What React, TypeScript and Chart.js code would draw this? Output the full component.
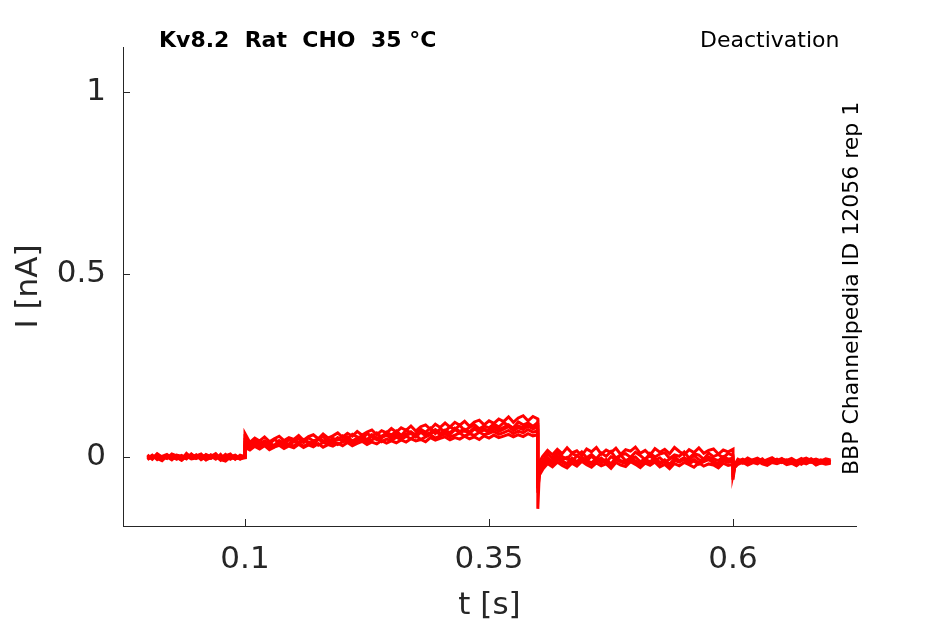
import { useEffect, useRef } from "react";
import { Chart, registerables } from "chart.js";
import type { ChartConfiguration, Plugin } from "chart.js";

Chart.register(...registerables);

// sample times in ms (steps at 100, 400, 600 ms are repeated on purpose)
const TIME_MS = [
  0, 5, 10, 15, 20, 25, 30, 35, 40, 45, 50, 55, 60, 65, 70, 75, 80, 85, 90, 95, 100,
  100, 105, 110, 115, 120, 125, 130, 135, 140, 145, 150, 155, 160, 165, 170, 175, 180, 185, 190, 195,
  200, 205, 210, 215, 220, 225, 230, 235, 240, 245, 250, 255, 260, 265, 270, 275, 280, 285, 290, 295,
  300, 305, 310, 315, 320, 325, 330, 335, 340, 345, 350, 355, 360, 365, 370, 375, 380, 385, 390, 395, 400,
  400, 402, 405, 410, 415, 420, 425, 430, 435, 440, 445, 450, 455, 460, 465, 470, 475, 480, 485, 490, 495,
  500, 505, 510, 515, 520, 525, 530, 535, 540, 545, 550, 555, 560, 565, 570, 575, 580, 585, 590, 595, 600,
  600, 602, 605, 610, 615, 620, 625, 630, 635, 640, 645, 650, 655, 660, 665, 670, 675, 680, 685, 690, 695, 700,
];

// current per sweep, in pA
const SWEEP_1 = [
  6, -5, 9, 0, -4, 8, 3, -7, 10, -2, 5, -6, 7, 1, 9, -4, 3, 8, -6, 5, 0,
  64, 40, 52, 44, 55, 42, 50, 57, 45, 53, 48, 59, 46, 56, 61, 50, 63, 52, 58, 66,
  54, 65, 57, 70, 60, 68, 74, 61, 72, 66, 78, 68, 80, 73, 85, 71, 83, 88, 76, 90,
  81, 93, 82, 95, 87, 98, 84, 96, 101, 88, 99, 92, 104, 97, 110, 95, 107, 113, 99, 111, 104,
  -142, -12, 2, 18, 6, 21, 9, 25, 11, 17, 4, 22, 14, 26, 8, 19, 12, 24, 7, 20, 16,
  27, 10, 18, 5, 23, 13, 21, 9, 26, 15, 6, 20, 12, 25, 10, 18, 22, 8, 19, 14, 21,
  -62, -20, -6, -12, -3, -10, -5, -13, -7, -2, -11, -6, -9, -4, -12, -7, -3, -10, -6, -11, -5, -8,
];
const SWEEP_2 = [
  -4, 5, -7, 2, 7, -3, 4, -8, 6, -1, 3, 8, -5, 2, -6, 7, -8, 1, 5, -4, -2,
  44, 33, 46, 37, 43, 35, 48, 40, 36, 47, 41, 50, 39, 53, 44, 49, 56, 42, 51, 47,
  58, 50, 62, 55, 48, 64, 57, 66, 53, 68, 60, 71, 59, 73, 66, 62, 76, 68, 79, 64,
  77, 70, 83, 75, 87, 72, 81, 89, 77, 85, 80, 91, 82, 94, 86, 80, 96, 88, 93, 84, 95,
  -98, -25, -10, 8, -4, 12, 1, -6, 10, 3, 14, -2, 7, -5, 11, 2, 15, -3, 6, 9, -1,
  13, 4, -7, 10, 0, 8, 12, -4, 6, 2, 14, -3, 9, 5, -6, 11, 1, 7, -2, 10, 4,
  -48, -22, -14, -7, -16, -9, -13, -5, -17, -10, -6, -15, -8, -18, -11, -4, -14, -9, -16, -12, -7, -13,
];
const SWEEP_3 = [
  -6, 3, -2, -9, 4, -5, 1, -8, 2, -3, 6, -7, 0, -4, 5, -9, 2, -6, 3, -2, -1,
  36, 27, 38, 30, 41, 33, 28, 42, 35, 31, 44, 36, 47, 38, 33, 49, 41, 45, 37, 51,
  43, 52, 40, 49, 55, 44, 58, 47, 53, 60, 50, 62, 52, 59, 65, 55, 68, 58, 63, 71,
  61, 70, 62, 75, 66, 72, 64, 77, 69, 74, 67, 79, 70, 76, 83, 72, 80, 75, 85, 77, 82,
  -74, -35, -20, -2, -12, 3, -8, -1, -14, 4, -6, -11, 2, -9, -3, -15, 1, -7, 5, -10, -4,
  0, -13, -5, 3, -9, -2, -14, -6, 2, -11, -3, -8, 4, -7, -12, 0, -5, -10, 1, -6, -3,
  -40, -25, -11, -17, -8, -15, -19, -10, -14, -6, -16, -12, -18, -9, -13, -20, -11, -15, -8, -17, -12, -14,
];
const SWEEP_4 = [
  -7, 1, -4, -10, 3, -6, -1, -9, 2, -5, -3, 4, -8, -2, 1, -7, -11, 0, -5, -3, -2,
  30, 23, 33, 27, 36, 25, 31, 37, 28, 34, 30, 39, 29, 37, 42, 32, 40, 35, 44, 34,
  41, 46, 37, 44, 50, 40, 47, 53, 42, 49, 45, 54, 47, 57, 50, 59, 48, 55, 61, 52,
  58, 63, 55, 60, 66, 57, 64, 59, 68, 61, 65, 70, 62, 67, 73, 64, 71, 66, 75, 68, 72,
  -62, -44, -28, -10, -19, -6, -15, -22, -9, -17, -4, -14, -20, -8, -16, -11, -23, -7, -13, -18, -5,
  -15, -21, -10, -17, -8, -19, -12, -24, -9, -14, -6, -18, -11, -20, -13, -7, -16, -22, -10, -15, -12,
  -36, -27, -18, -12, -20, -14, -9, -17, -21, -13, -16, -10, -19, -15, -22, -12, -17, -11, -20, -14, -18, -15,
];
const SWEEP_5 = [
  4, -6, 7, -3, 1, -8, 5, 2, -5, 8, -2, 3, -7, 6, 0, -4, 7, -3, 2, -6, 1,
  26, 19, 29, 22, 31, 20, 27, 32, 23, 30, 25, 35, 26, 33, 28, 37, 27, 34, 30, 38,
  31, 40, 31, 37, 43, 34, 41, 36, 45, 38, 44, 39, 47, 41, 50, 44, 48, 42, 53, 46,
  51, 55, 47, 53, 49, 57, 50, 55, 48, 58, 52, 60, 53, 57, 62, 55, 61, 56, 64, 58, 61,
  -52, -48, -34, -18, -27, -14, -23, -30, -17, -25, -12, -21, -28, -16, -24, -19, -31, -15, -22, -26, -13,
  -20, -29, -17, -23, -14, -27, -20, -32, -18, -24, -15, -21, -28, -16, -25, -19, -22, -30, -17, -23, -20,
  -30, -28, -20, -14, -22, -16, -11, -19, -23, -15, -18, -13, -21, -17, -24, -14, -19, -12, -22, -16, -20, -17,
];
const SWEEP_6 = [
  2, -3, 6, -5, 3, 0, -6, 4, -2, 7, -4, 1, 5, -3, 2, -7, 4, 0, -5, 3, 1,
  50, 30, 41, 34, 44, 37, 32, 45, 39, 35, 46, 38, 48, 41, 36, 51, 44, 47, 40, 53,
  45, 55, 44, 52, 58, 47, 61, 51, 57, 64, 54, 66, 56, 63, 69, 59, 72, 62, 67, 75,
  65, 74, 66, 79, 70, 76, 68, 81, 73, 78, 71, 84, 75, 81, 88, 77, 85, 80, 90, 82, 87,
  -85, -40, -24, -5, -15, -1, -11, -18, -3, -13, 0, -9, -16, -4, -12, -7, -19, -2, -10, -14, -1,
  -11, -17, -6, -13, -3, -15, -8, -20, -5, -10, -2, -14, -7, -16, -9, -3, -12, -18, -6, -11, -8,
  -55, -19, -12, -6, -14, -8, -3, -11, -15, -7, -10, -4, -13, -9, -16, -6, -11, -5, -14, -8, -12, -10,
];
const SWEEPS = [SWEEP_1, SWEEP_2, SWEEP_3, SWEEP_4, SWEEP_5, SWEEP_6];

const X_TICKS = [0.1, 0.35, 0.6];
const Y_TICKS = [0, 0.5, 1];

const TITLE = "Kv8.2  Rat  CHO  35 °C";
const PROTOCOL = "Deactivation";
const SOURCE = "BBP Channelpedia ID 12056 rep 1";
const X_LABEL = "t [s]";
const Y_LABEL = "I [nA]";

const FONT = "'DejaVu Sans', Verdana, sans-serif";
const INK = "#262626";
const TRACE = "#ff0000";

const decor: Plugin<"line"> = {
  id: "decor",
  afterDraw(chart) {
    const { ctx, chartArea: a, scales } = chart;
    const x = scales.x;
    const y = scales.y;
    ctx.save();
    // inward tick marks
    ctx.strokeStyle = INK;
    ctx.lineWidth = 1;
    ctx.beginPath();
    X_TICKS.forEach((v) => {
      const px = Math.round(x.getPixelForValue(v)) + 0.5;
      ctx.moveTo(px, a.bottom);
      ctx.lineTo(px, a.bottom - 7);
    });
    Y_TICKS.forEach((v) => {
      const py = Math.round(y.getPixelForValue(v)) + 0.5;
      ctx.moveTo(a.left, py);
      ctx.lineTo(a.left + 7, py);
    });
    ctx.stroke();

    ctx.fillStyle = INK;
    ctx.textBaseline = "alphabetic";
    ctx.font = `31px ${FONT}`;
    ctx.textAlign = "center";
    ctx.fillText(X_LABEL, (a.left + a.right) / 2, 614);
    ctx.save();
    ctx.translate(37, (a.top + a.bottom) / 2);
    ctx.rotate(-Math.PI / 2);
    ctx.fillText(Y_LABEL, 0, 0);
    ctx.restore();

    ctx.fillStyle = "#000";
    ctx.textAlign = "left";
    ctx.font = `bold 22px ${FONT}`;
    ctx.fillText(TITLE, 159, 47);
    ctx.font = `22px ${FONT}`;
    ctx.fillText(PROTOCOL, 700, 47);

    ctx.font = `22px ${FONT}`;
    ctx.translate(858, 475);
    ctx.rotate(-Math.PI / 2);
    ctx.fillText(SOURCE, 0, 0);
    ctx.restore();
  },
};

export default function App() {
  const canvasRef = useRef<HTMLCanvasElement | null>(null);

  useEffect(() => {
    if (!canvasRef.current) return;

    const config: ChartConfiguration<"line"> = {
      type: "line",
      data: {
        datasets: SWEEPS.map((sweep, i) => ({
          label: `sweep ${i + 1}`,
          data: sweep.map((pA, k) => ({ x: TIME_MS[k] / 1000, y: pA / 1000 })),
          borderColor: TRACE,
          borderWidth: 3,
          pointRadius: 0,
          tension: 0,
          fill: false,
        })),
      },
      options: {
        responsive: false,
        animation: false,
        events: [],
        layout: { padding: { top: 47, right: 89, left: 0, bottom: 0 } },
        plugins: {
          legend: { display: false },
          tooltip: { enabled: false },
          title: { display: false },
        },
        scales: {
          x: {
            type: "linear",
            min: -0.025,
            max: 0.726,
            afterBuildTicks: (s) => {
              s.ticks = X_TICKS.map((value) => ({ value }));
            },
            afterFit: (s) => {
              s.height = 98;
            },
            grid: { display: false, drawTicks: false },
            border: { display: true, color: INK, width: 1 },
            ticks: {
              autoSkip: false,
              maxRotation: 0,
              padding: 15,
              color: INK,
              font: { family: FONT, size: 31 },
              callback: (v) => String(v),
            },
          },
          y: {
            type: "linear",
            min: -0.189,
            max: 1.123,
            afterBuildTicks: (s) => {
              s.ticks = Y_TICKS.map((value) => ({ value }));
            },
            afterFit: (s) => {
              s.width = 123;
            },
            grid: { display: false, drawTicks: false },
            border: { display: true, color: INK, width: 1 },
            ticks: {
              autoSkip: false,
              padding: 17,
              color: INK,
              font: { family: FONT, size: 31 },
              callback: (v) => String(v),
            },
          },
        },
      },
      plugins: [decor],
    };

    const chart = new Chart(canvasRef.current, config);
    return () => chart.destroy();
  }, []);

  return (
    <div style={{ position: "fixed", left: 0, top: 0, width: 945, height: 624, background: "#fff" }}>
      <canvas ref={canvasRef} width={945} height={624} style={{ display: "block" }} />
    </div>
  );
}
